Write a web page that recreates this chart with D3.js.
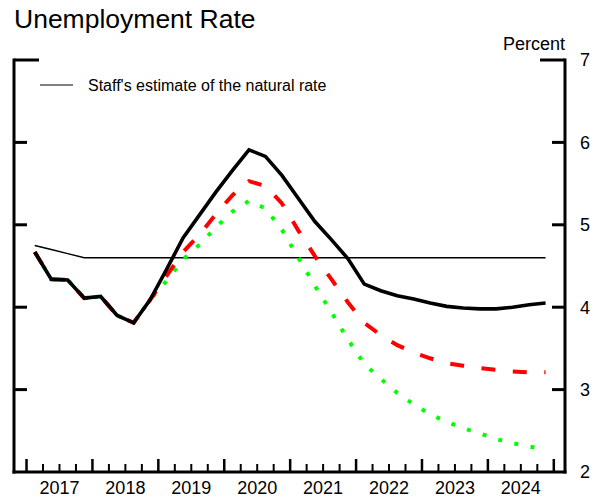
<!DOCTYPE html>
<html>
<head>
<meta charset="utf-8">
<script src="https://cdn.jsdelivr.net/npm/d3@7"></script>
<style>
  html, body { margin: 0; padding: 0; background: #fff; }
  svg { display: block; }
  text { font-family: "Liberation Sans", Arial, sans-serif; fill: #000; }
</style>
</head>
<body>
<svg id="chart" width="605" height="500"></svg>
<script>
// Quarterly observations, 2017:Q1 through 2024:Q4
const years = ["2017", "2018", "2019", "2020", "2021", "2022", "2023", "2024"];
const yTicks = [2, 3, 4, 5, 6, 7];

const baseline = [4.67, 4.34, 4.33, 4.11, 4.13, 3.90, 3.81, 4.09,
                  4.46, 4.84, 5.12, 5.40, 5.66, 5.91, 5.83, 5.60,
                  5.32, 5.04, 4.82, 4.59, 4.28, 4.20, 4.14, 4.10,
                  4.05, 4.01, 3.99, 3.98, 3.98, 4.00, 4.03, 4.05];
const altRed = [4.67, 4.34, 4.33, 4.11, 4.13, 3.90, 3.81, 4.09,
                4.38, 4.67, 4.88, 5.13, 5.36, 5.53, 5.47, 5.26,
                4.93, 4.62, 4.34, 4.06, 3.81, 3.66, 3.54, 3.45,
                3.38, 3.32, 3.29, 3.26, 3.24, 3.22, 3.21, 3.21];
const altGreen = [4.67, 4.34, 4.33, 4.11, 4.13, 3.90, 3.81, 4.09,
                  4.32, 4.58, 4.76, 4.97, 5.16, 5.29, 5.20, 4.94,
                  4.60, 4.26, 3.94, 3.61, 3.31, 3.13, 2.96, 2.82,
                  2.70, 2.61, 2.53, 2.47, 2.40, 2.35, 2.31, 2.27];
const naturalRate = [4.75, 4.70, 4.65, 4.60, 4.60, 4.60, 4.60, 4.60,
                     4.60, 4.60, 4.60, 4.60, 4.60, 4.60, 4.60, 4.60,
                     4.60, 4.60, 4.60, 4.60, 4.60, 4.60, 4.60, 4.60,
                     4.60, 4.60, 4.60, 4.60, 4.60, 4.60, 4.60, 4.60];

// Each quarter is placed at its midpoint in fractional years
const firstYear = +years[0];
const qTime = i => firstYear + Math.floor(i / 4) + ((i % 4) + 0.5) / 4;

const plotLeft = 14, plotRight = 565, plotTop = 60, plotBottom = 472;

const x = d3.scaleLinear().domain([2016.81, 2025.17]).range([plotLeft, plotRight]);
const y = d3.scaleLinear().domain([2, 7]).range([plotBottom, plotTop]);

const svg = d3.select("#chart");

// Title and unit label
svg.append("text").attr("x", 14).attr("y", 28)
  .attr("font-size", 26.5).text("Unemployment Rate");
svg.append("text").attr("x", 565).attr("y", 50)
  .attr("text-anchor", "end").attr("font-size", 18).text("Percent");

// Frame: left, right and bottom rules
const frame = svg.append("g").attr("stroke", "#000").attr("fill", "none");
frame.append("line").attr("x1", plotLeft).attr("x2", plotLeft).attr("y1", plotTop - 1.5).attr("y2", plotBottom + 1.5).attr("stroke-width", 3);
frame.append("line").attr("x1", plotRight).attr("x2", plotRight).attr("y1", plotTop - 1.5).attr("y2", plotBottom + 1.5).attr("stroke-width", 3);
frame.append("line").attr("x1", plotLeft - 1.5).attr("x2", plotRight + 1.5).attr("y1", plotBottom).attr("y2", plotBottom).attr("stroke-width", 3);

// Inward y ticks on both sides; the top tick is drawn longer
yTicks.filter(v => v > 2).forEach(v => {
  const len = v === 7 ? 25 : 13;
  frame.append("line").attr("x1", plotLeft).attr("x2", plotLeft + len)
    .attr("y1", y(v)).attr("y2", y(v)).attr("stroke-width", 3);
  frame.append("line").attr("x1", plotRight - len).attr("x2", plotRight)
    .attr("y1", y(v)).attr("y2", y(v)).attr("stroke-width", 3);
});

// Right-hand tick labels
svg.append("g").selectAll("text").data(yTicks).join("text")
  .attr("x", 580).attr("y", d => y(d)).attr("dy", "0.36em")
  .attr("font-size", 18).text(d => d);

// Quarter ticks along the bottom, taller at year boundaries
const quarterTicks = d3.range(0, years.length * 4 + 1).map(i => ({ t: firstYear + i / 4, major: i % 4 === 0 }));
frame.selectAll("line.qt").data(quarterTicks).join("line")
  .attr("class", "qt")
  .attr("x1", d => x(d.t)).attr("x2", d => x(d.t))
  .attr("y1", plotBottom).attr("y2", d => plotBottom - (d.major ? 13 : 8))
  .attr("stroke-width", d => d.major ? 2.5 : 2);

// Year labels centred within each year
svg.append("g").selectAll("text").data(years).join("text")
  .attr("x", d => x(+d + 0.5)).attr("y", 494)
  .attr("text-anchor", "middle").attr("font-size", 18).text(d => d);

const line = d3.line().x((d, i) => x(qTime(i))).y(d => y(d));

// Natural rate estimate
svg.append("path").datum(naturalRate).attr("d", line)
  .attr("fill", "none").attr("stroke", "#000").attr("stroke-width", 1.5);

// Alternative paths
svg.append("path").datum(altGreen).attr("d", line)
  .attr("fill", "none").attr("stroke", "#00ff00").attr("stroke-width", 4)
  .attr("stroke-dasharray", "4,12.5");
svg.append("path").datum(altRed).attr("d", line)
  .attr("fill", "none").attr("stroke", "#ff0000").attr("stroke-width", 4)
  .attr("stroke-dasharray", "14,17.5");

// Baseline projection
svg.append("path").datum(baseline).attr("d", line)
  .attr("fill", "none").attr("stroke", "#000").attr("stroke-width", 3.6)
  .attr("stroke-linejoin", "miter");

// Legend
svg.append("line").attr("x1", 40).attr("x2", 73).attr("y1", 85).attr("y2", 85)
  .attr("stroke", "#000").attr("stroke-width", 1.2);
svg.append("text").attr("x", 88).attr("y", 90.5)
  .attr("font-size", 16).text("Staff's estimate of the natural rate");
</script>
</body>
</html>
